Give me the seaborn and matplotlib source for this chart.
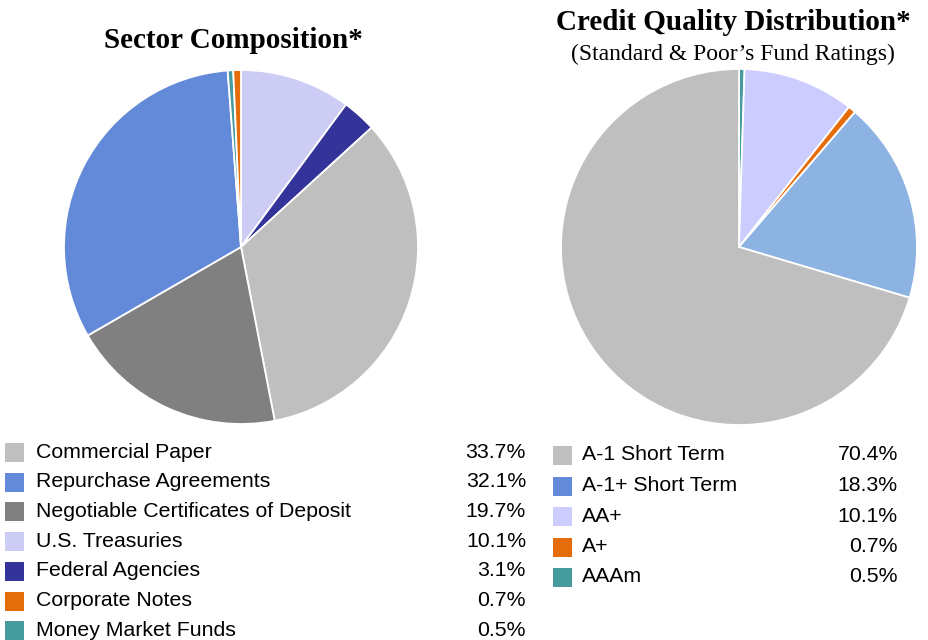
import matplotlib
matplotlib.use("Agg")
import matplotlib.pyplot as plt
import seaborn as sns
from matplotlib.patches import Rectangle

sns.set_theme(style="white")
plt.rcParams['font.family'] = ['Liberation Sans', 'DejaVu Sans']

# Sector composition (legend order)
sector_labels = ["Commercial Paper", "Repurchase Agreements",
                 "Negotiable Certificates of Deposit", "U.S. Treasuries",
                 "Federal Agencies", "Corporate Notes", "Money Market Funds"]
sector_values = [33.7, 32.1, 19.7, 10.1, 3.1, 0.7, 0.5]
sector_colors = ["#BFBFBF", "#628AD8", "#808080", "#CCCCF5",
                 "#333399", "#E46C0A", "#469B9F"]
# order the wedges appear clockwise from 12 o'clock
sector_pie_order = [3, 4, 0, 2, 1, 6, 5]

# Credit quality (legend order)
credit_labels = ["A-1 Short Term", "A-1+ Short Term", "AA+", "A+", "AAAm"]
credit_values = [70.4, 18.3, 10.1, 0.7, 0.5]
credit_colors = ["#BFBFBF", "#628AD8", "#CCCCFF", "#E46C0A", "#469B9F"]
credit_pie_colors = ["#BFBFBF", "#8DB3E2", "#CCCCFF", "#E46C0A", "#469B9F"]
credit_pie_order = [4, 2, 3, 1, 0]

W, H = 929, 640
fig = plt.figure(figsize=(W / 100, H / 100), dpi=100)


def px_axes(cx, cy, r):
    return fig.add_axes([(cx - r) / W, (H - cy - r) / H, 2 * r / W, 2 * r / H])


def draw_pie(ax, values, colors, order):
    ax.pie([values[i] for i in order], colors=[colors[i] for i in order],
           startangle=90, counterclock=False,
           wedgeprops=dict(edgecolor="white", linewidth=1.3))
    ax.set_xlim(-1, 1)
    ax.set_ylim(-1, 1)
    ax.set_aspect("equal")
    ax.axis("off")


ax1 = px_axes(241, 247, 177)
draw_pie(ax1, sector_values, sector_colors, sector_pie_order)
ax2 = px_axes(739, 247, 178)
draw_pie(ax2, credit_values, credit_pie_colors, credit_pie_order)

serif = ['Liberation Serif', 'DejaVu Serif']
fig.text(233 / W, 1 - 40 / H, "Sector Composition*", ha="center", va="center",
         fontsize=21, fontweight="bold", family=serif, color="black")
fig.text(733 / W, 1 - 22 / H, "Credit Quality Distribution*", ha="center",
         va="center", fontsize=21, fontweight="bold", family=serif, color="black")
fig.text(733 / W, 1 - 54 / H, "(Standard & Poor\u2019s Fund Ratings)",
         ha="center", va="center", fontsize=17, family=serif, color="black")


def draw_legend(labels, values, colors, sq_x, text_x, val_x, y0, dy):
    for i, (lab, val, col) in enumerate(zip(labels, values, colors)):
        y = y0 + i * dy
        fig.patches.append(Rectangle((sq_x / W, 1 - (y + 10) / H), 19 / W, 19 / H,
                                     transform=fig.transFigure, facecolor=col,
                                     edgecolor="none"))
        fig.text(text_x / W, 1 - y / H, lab, ha="left", va="center",
                 fontsize=15.3, color="black")
        fig.text(val_x / W, 1 - y / H, f"{val:.1f}%", ha="right", va="center",
                 fontsize=15.3, color="black")


draw_legend(sector_labels, sector_values, sector_colors, 5, 36, 526, 452, 29.7)
draw_legend(credit_labels, credit_values, credit_colors, 553, 582, 898, 455, 30.5)

fig.savefig("out.png", dpi=100, facecolor="white")
